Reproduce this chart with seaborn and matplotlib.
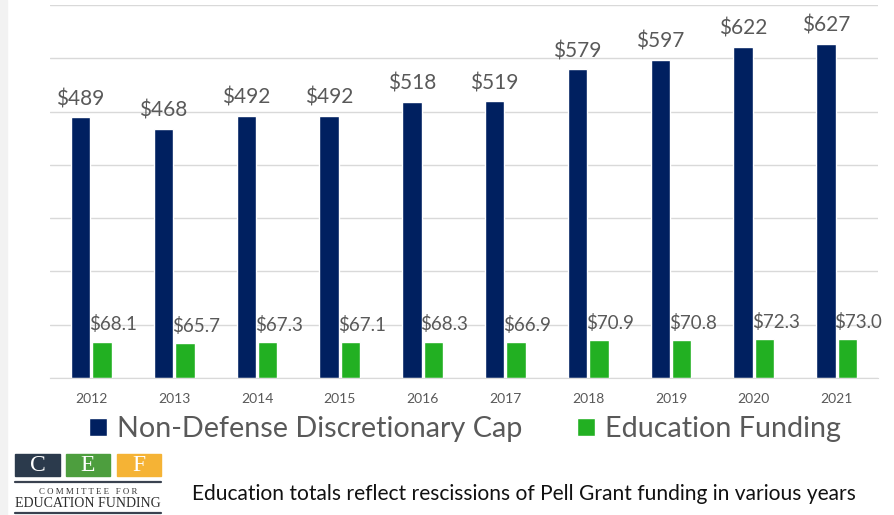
import numpy as np
import pandas as pd
import matplotlib
matplotlib.use("Agg")
import matplotlib.pyplot as plt
from matplotlib.patches import Rectangle
from matplotlib.lines import Line2D
import seaborn as sns

# ---------------------------------------------------------------
# Data (billions of dollars)
# ---------------------------------------------------------------
years = ["2012", "2013", "2014", "2015", "2016", "2017", "2018", "2019", "2020", "2021"]
ndd_cap = [489, 468, 492, 492, 518, 519, 579, 597, 622, 627]
education = [68.1, 65.7, 67.3, 67.1, 68.3, 66.9, 70.9, 70.8, 72.3, 73.0]
series_names = ["Non-Defense Discretionary Cap", "Education Funding"]
series_colors = ["#002060", "#22b022"]
footnote = "Education totals reflect rescissions of Pell Grant funding in various years"

W, H = 895, 515
GRAY = "#595959"

df = pd.DataFrame({
    "year": years * 2,
    "value": ndd_cap + education,
    "series": [series_names[0]] * len(years) + [series_names[1]] * len(years),
})

sns.set_style("white")
plt.rcParams["font.family"] = ["Lato", "DejaVu Sans"]

fig = plt.figure(figsize=(W / 100, H / 100), dpi=100)
ax = fig.add_axes([50 / W, (H - 378) / H, (878 - 50) / W, (378 - 5) / H])

sns.barplot(data=df, x="year", y="value", hue="series", palette=series_colors,
            width=0.52, gap=0.1, saturation=1, ax=ax, legend=True)

ax.set_ylim(0, 700)
ax.set_yticks(np.arange(0, 701, 100))
ax.set_xlim(-0.5, len(years) - 0.5)
ax.grid(axis="y", color="#d9d9d9", linewidth=1)
ax.set_axisbelow(True)
for s in ["left", "right", "top"]:
    ax.spines[s].set_visible(False)
ax.spines["bottom"].set_color("#d9d9d9")
ax.tick_params(axis="y", left=False, labelleft=False)
ax.tick_params(axis="x", length=0, pad=11, labelsize=10, labelcolor=GRAY)
ax.set_xlabel("")
ax.set_ylabel("")

# data labels
for bar, v in zip(ax.containers[0], ndd_cap):
    ax.annotate(f"${v:.0f}", (bar.get_x() + bar.get_width() / 2, bar.get_height()),
                xytext=(0, 6), textcoords="offset points", ha="center", va="bottom",
                fontsize=15, color=GRAY)
for bar, v in zip(ax.containers[1], education):
    ax.annotate(f"${v:.1f}", (bar.get_x() + bar.get_width() / 2, bar.get_height()),
                xytext=(8, 6), textcoords="offset points", ha="center", va="bottom",
                fontsize=13.5, color=GRAY)

# legend
ax.legend(loc="center", bbox_to_anchor=(465 / W, (H - 429) / H), bbox_transform=fig.transFigure,
          ncol=2, frameon=False, fontsize=20.7, labelcolor=GRAY, handlelength=0.62,
          handleheight=0.62, handletextpad=0.35, columnspacing=1.9, borderpad=0)

# footnote
fig.text(192 / W, (H - 494) / H, footnote, ha="left", va="center", fontsize=15.1, color="#111111")

# left border strip
fig.add_artist(Rectangle((0, 0), 7 / W, 1, transform=fig.transFigure, color="#f2f2f2", zorder=0))


# CEF logo
def px(x, y):
    return x / W, (H - y) / H


for (x0, x1), letter, col in zip([(15, 60), (66, 110), (117, 161)], ["C", "E", "F"],
                                 ["#2b3a4c", "#4d9e3e", "#f5b335"]):
    fig.add_artist(Rectangle(px(x0, 476), (x1 - x0) / W, 22 / H, transform=fig.transFigure,
                             color=col))
    fig.text(*px((x0 + x1) / 2, 465.5), letter, ha="center", va="center", color="white",
             fontsize=17, family="Liberation Serif")
for y in [482, 512.5]:
    fig.add_artist(Line2D([15 / W, 161 / W], [(H - y) / H] * 2, transform=fig.transFigure,
                          color="#3a4250", linewidth=1.6))
fig.text(*px(88, 492.5), "C O M M I T T E E   F O R", ha="center", va="center",
         fontsize=6.4, color="#333333", family="Liberation Serif")
fig.text(*px(88, 503.5), "EDUCATION FUNDING", ha="center", va="center",
         fontsize=10.0, color="#2b2b2b", family="Liberation Serif")

fig.savefig("out.png", dpi=100)
